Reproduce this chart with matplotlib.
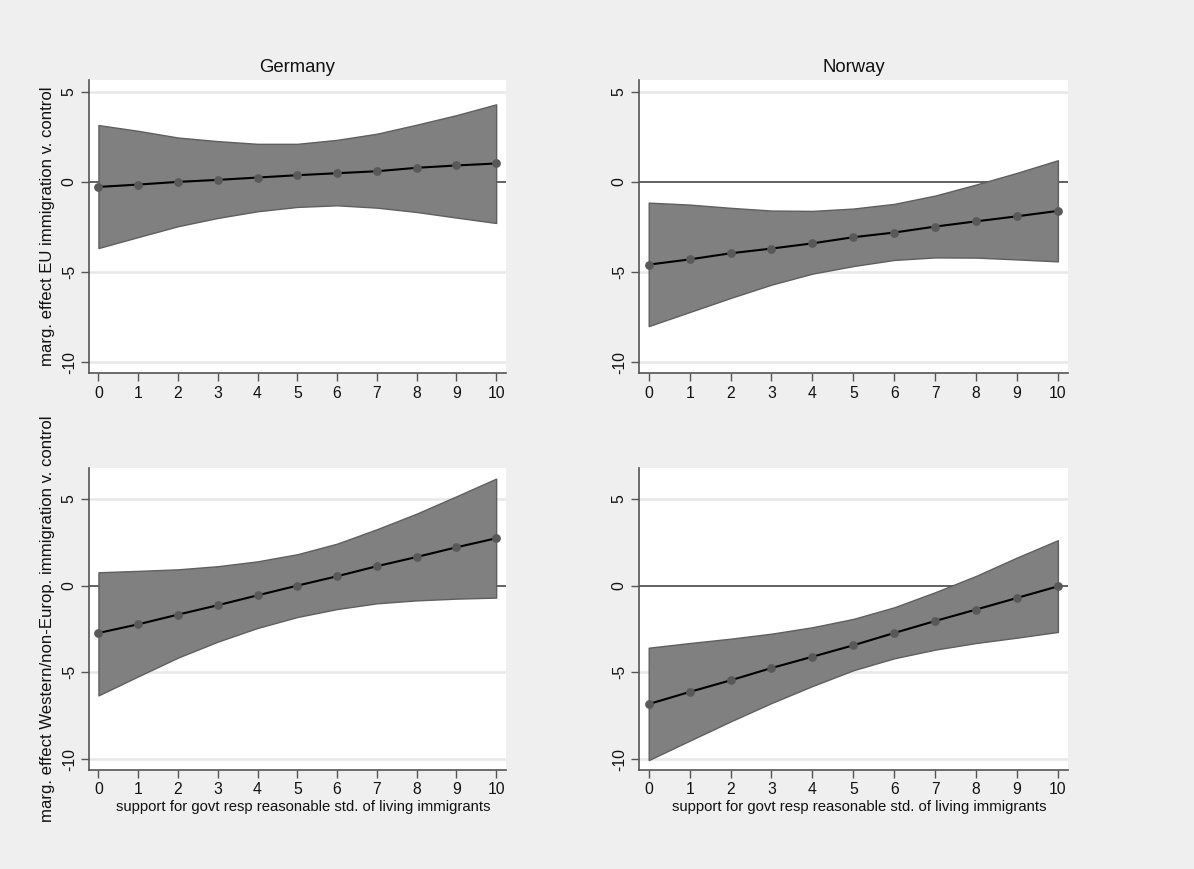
import matplotlib
matplotlib.use("Agg")
import matplotlib.pyplot as plt
import numpy as np

plt.rcParams['font.family'] = ['Liberation Sans', 'DejaVu Sans']
plt.rcParams['axes.unicode_minus'] = False

support = list(range(11))

# Germany, EU immigration
de_eu_est = [-0.28, -0.15, 0.0, 0.11, 0.24, 0.37, 0.48, 0.59, 0.78, 0.91, 1.02]
de_eu_hi = [3.15, 2.83, 2.46, 2.26, 2.11, 2.11, 2.33, 2.67, 3.17, 3.70, 4.30]
de_eu_lo = [-3.67, -3.06, -2.46, -2.00, -1.63, -1.39, -1.30, -1.43, -1.67, -1.98, -2.28]

# Norway, EU immigration
no_eu_est = [-4.59, -4.30, -3.96, -3.70, -3.41, -3.07, -2.81, -2.48, -2.19, -1.91, -1.61]
no_eu_hi = [-1.15, -1.26, -1.44, -1.59, -1.61, -1.48, -1.22, -0.76, -0.15, 0.50, 1.20]
no_eu_lo = [-8.00, -7.22, -6.44, -5.70, -5.09, -4.67, -4.33, -4.19, -4.20, -4.30, -4.41]

# Germany, Western/non-European immigration
de_ne_est = [-2.73, -2.23, -1.67, -1.13, -0.56, 0.0, 0.54, 1.12, 1.65, 2.21, 2.73]
de_ne_hi = [0.77, 0.85, 0.94, 1.12, 1.40, 1.81, 2.42, 3.25, 4.15, 5.15, 6.17]
de_ne_lo = [-6.33, -5.23, -4.15, -3.23, -2.44, -1.81, -1.35, -1.02, -0.85, -0.75, -0.69]

# Norway, Western/non-European immigration
no_ne_est = [-6.83, -6.13, -5.46, -4.75, -4.10, -3.44, -2.73, -2.04, -1.38, -0.71, -0.04]
no_ne_hi = [-3.58, -3.31, -3.06, -2.77, -2.40, -1.92, -1.25, -0.38, 0.56, 1.62, 2.62]
no_ne_lo = [-10.06, -8.94, -7.83, -6.77, -5.79, -4.88, -4.19, -3.69, -3.31, -3.00, -2.67]

countries = ["Germany", "Norway"]
ylabels = ["marg. effect EU immigration v. control",
           "marg. effect Western/non-Europ. immigration v. control"]
xlabel = "support for govt resp reasonable std. of living immigrants"
yticks = [-10, -5, 0, 5]
xticks = list(range(11))

panels = [
    (de_eu_est, de_eu_hi, de_eu_lo),
    (no_eu_est, no_eu_hi, no_eu_lo),
    (de_ne_est, de_ne_hi, de_ne_lo),
    (no_ne_est, no_ne_hi, no_ne_lo),
]

W, H = 1194, 869
fig = plt.figure(figsize=(W / 100, H / 100), dpi=100, facecolor='#efefef')

lefts = [89.3, 639.3]
rights = [505.7, 1067.7]
tops = [80, 467.7]
bottoms = [373, 770]
ylims = [(-10.6, 5.65), (-10.63, 6.8)]

for i, (est, hi, lo) in enumerate(panels):
    r, c = divmod(i, 2)
    ax = fig.add_axes([lefts[c] / W, 1 - bottoms[r] / H,
                       (rights[c] - lefts[c]) / W, (bottoms[r] - tops[r]) / H])
    ax.set_facecolor('white')
    for yv in yticks:
        if yv == 0:
            ax.axhline(0, color='#555555', lw=1.3, zorder=1)
        else:
            ax.axhline(yv, color='#e8e8e8', lw=1.8, zorder=1)
    ax.fill_between(support, lo, hi, facecolor='#808080', edgecolor='#5f5f5f',
                    lw=1.0, zorder=2)
    ax.plot(support, est, color='black', lw=1.5, zorder=3)
    ax.plot(support, est, 'o', color='#595959', ms=6.3, mew=0, zorder=4)
    ax.set_xlim(-0.23, 10.24)
    ax.set_ylim(*ylims[r])
    ax.set_xticks(xticks)
    ax.set_yticks(yticks)
    ax.tick_params(axis='both', direction='out', length=6, width=1,
                   color='#555555', labelsize=11.3, labelcolor='#111111', pad=3)
    for lab in ax.get_yticklabels():
        lab.set_rotation(90)
        lab.set_va('center')
    for s in ['top', 'right']:
        ax.spines[s].set_visible(False)
    for s in ['left', 'bottom']:
        ax.spines[s].set_color('#555555')
        ax.spines[s].set_linewidth(1.2)
    if r == 0:
        ax.set_title(countries[c], fontsize=13.3, pad=6, color='#111111')
    if c == 0:
        ax.set_ylabel(ylabels[r], fontsize=12.1, labelpad=5, color='#111111')
    if r == 1:
        ax.set_xlabel(xlabel, fontsize=10.7, color='#111111')
        ax.xaxis.set_label_coords(0.514, -0.098)

fig.savefig('out.png', dpi=100, facecolor=fig.get_facecolor())
